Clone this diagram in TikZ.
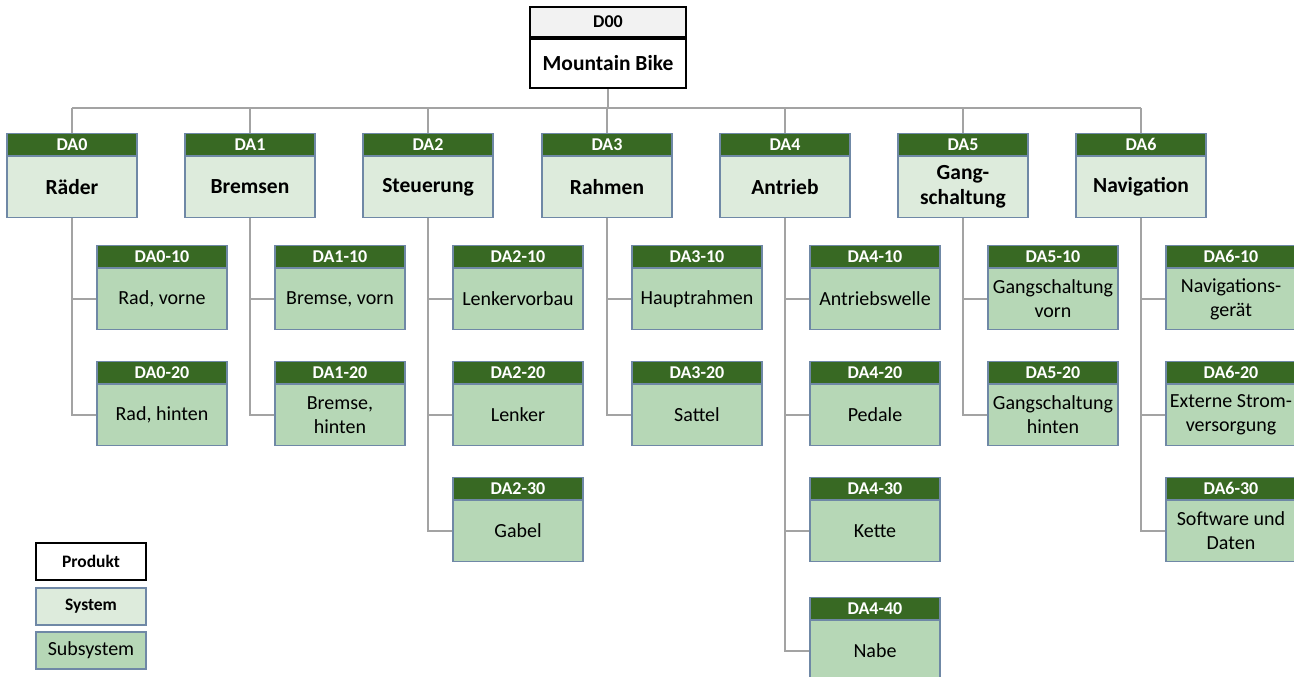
\documentclass[tikz,border=0pt]{standalone}
\usepackage{fontspec}
\setmainfont{Carlito}
\definecolor{hdrgreen}{HTML}{386923}
\definecolor{sysfill}{HTML}{DDEBDC}
\definecolor{subfill}{HTML}{B6D7B6}
\definecolor{boxedge}{HTML}{6F88A6}
\definecolor{linkgray}{HTML}{A3A3A3}
\definecolor{topgray}{HTML}{F2F2F2}
\tikzset{
  hdr/.style={draw=boxedge, line width=1.2pt, fill=hdrgreen, text=white,
    font=\fontsize{18}{20}\selectfont\bfseries, minimum width=130pt,
    minimum height=22pt, inner sep=0pt, anchor=south},
  sysbody/.style={draw=boxedge, line width=1.2pt, fill=sysfill,
    font=\fontsize{21.5}{25}\selectfont\bfseries, minimum width=130pt,
    minimum height=61pt, inner sep=0pt, align=center, anchor=north},
  subbody/.style={draw=boxedge, line width=1.2pt, fill=subfill,
    font=\fontsize{20}{24}\selectfont, minimum width=130pt,
    minimum height=61pt, inner sep=0pt, align=center, anchor=north},
  link/.style={draw=linkgray, line width=1.6pt},
  legend/.style={minimum width=110pt, minimum height=37pt, inner sep=0pt}
}
% box with a green code bar: #1 name, #2 centre x, #3 top y, #4 code, #5 label
\newcommand\sysnode[5]{%
  \node[sysbody] (#1) at (#2,#3+22) {#5};
  \node[hdr] (#1h) at (#1.north) {#4};}
\newcommand\subnode[5]{%
  \node[subbody] (#1) at (#2,#3+22) {#5};
  \node[hdr] (#1h) at (#1.north) {#4};}
\begin{document}
\begin{tikzpicture}[x=1pt,y=-1pt]
\useasboundingbox (0,0) rectangle (1294,677);
\clip (0,0) rectangle (1294,677);

% product
\node[draw=black, line width=2pt, fill=white, minimum width=156pt, minimum height=49pt,
  inner sep=0pt, anchor=north, font=\fontsize{21.5}{24}\selectfont\bfseries] (top) at (608,38) {Mountain Bike};
\node[draw=black, line width=2pt, fill=topgray, minimum width=156pt, minimum height=30pt,
  inner sep=0pt, anchor=south, font=\fontsize{18}{20}\selectfont\bfseries] (toph) at (top.north) {D00};

% systems
\sysnode{a}{72}{134}{DA0}{Räder}
\sysnode{b}{250}{134}{DA1}{Bremsen}
\sysnode{c}{428}{134}{DA2}{Steuerung\vphantom{D}}
\sysnode{d}{607}{134}{DA3}{Rahmen}
\sysnode{e}{785}{134}{DA4}{Antrieb}
\sysnode{f}{963}{134}{DA5}{Gang-\\schaltung}
\sysnode{g}{1141}{134}{DA6}{Navigation}

% subsystems
\subnode{a1}{162}{246}{DA0-10}{Rad, vorne}
\subnode{a2}{162}{362}{DA0-20}{Rad, hinten}
\subnode{b1}{340}{246}{DA1-10}{Bremse, vorn}
\subnode{b2}{340}{362}{DA1-20}{Bremse,\\hinten}
\subnode{c1}{518}{246}{DA2-10}{Lenkervorbau}
\subnode{c2}{518}{362}{DA2-20}{Lenker}
\subnode{c3}{518}{478}{DA2-30}{Gabel}
\subnode{d1}{697}{246}{DA3-10}{Hauptrahmen}
\subnode{d2}{697}{362}{DA3-20}{Sattel}
\subnode{e1}{875}{246}{DA4-10}{Antriebswelle}
\subnode{e2}{875}{362}{DA4-20}{Pedale}
\subnode{e3}{875}{478}{DA4-30}{Kette}
\subnode{e4}{875}{598}{DA4-40}{Nabe}
\subnode{f1}{1053}{246}{DA5-10}{Gangschaltung\\vorn}
\subnode{f2}{1053}{362}{DA5-20}{Gangschaltung\\hinten}
\subnode{g1}{1231}{246}{DA6-10}{Navigations-\\gerät}
\subnode{g2}{1231}{362}{DA6-20}{Externe Strom-\\versorgung}
\subnode{g3}{1231}{478}{DA6-30}{Software und\\Daten}

% tree connectors
\coordinate (busL) at (72,108);
\coordinate (busR) at (1141,108);
\draw[link] (top.south) -- (top.south |- busL);
\draw[link] (busL) -- (busR);
\foreach \s in {a,b,c,d,e,f,g}
  \draw[link] (\s h.north) -- (\s h.north |- busL);
\foreach \s/\k in {a/a1,a/a2,b/b1,b/b2,c/c1,c/c2,c/c3,d/d1,d/d2,
                   e/e1,e/e2,e/e3,e/e4,f/f1,f/f2,g/g1,g/g2,g/g3}
  \draw[link] (\k.west) -| (\s.south);

% legend
\node[legend, draw=black, line width=2pt, fill=white, font=\fontsize{17.5}{20}\selectfont\bfseries]
  (lp) at (91,561.5) {Produkt};
\node[legend, draw=boxedge, line width=1.2pt, fill=sysfill, font=\fontsize{17.5}{20}\selectfont\bfseries]
  (ls) at (91,606.5) {System};
\node[legend, draw=boxedge, line width=1.2pt, fill=subfill, font=\fontsize{20}{22}\selectfont]
  (lu) at (91,650.5) {Subsystem};
\end{tikzpicture}
\end{document}
